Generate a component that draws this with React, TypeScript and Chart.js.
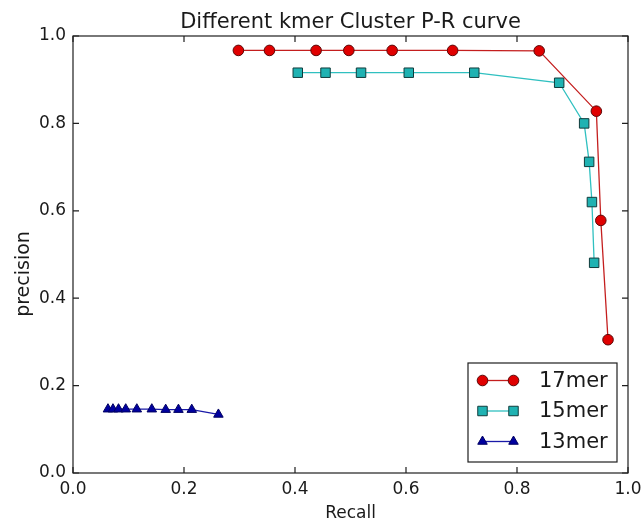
import React, { useEffect, useRef } from "react";
import { Chart, registerables } from "chart.js";

Chart.register(...registerables);

const TITLE = "Different kmer Cluster P-R curve";
const X_LABEL = "Recall";
const Y_LABEL = "precision";
const TICK_VALUES = [0, 0.2, 0.4, 0.6, 0.8, 1.0];

const SERIES_NAMES = ["17mer", "15mer", "13mer"];

const recall17 = [0.298, 0.354, 0.438, 0.497, 0.575, 0.684, 0.84, 0.943, 0.951, 0.964];
const precision17 = [0.967, 0.967, 0.967, 0.967, 0.967, 0.967, 0.966, 0.828, 0.578, 0.305];

const recall15 = [0.405, 0.455, 0.519, 0.605, 0.723, 0.876, 0.921, 0.93, 0.935, 0.939];
const precision15 = [0.916, 0.916, 0.916, 0.916, 0.916, 0.893, 0.8, 0.712, 0.62, 0.481];

const recall13 = [0.063, 0.072, 0.082, 0.095, 0.115, 0.142, 0.167, 0.19, 0.214, 0.262];
const precision13 = [0.146, 0.146, 0.146, 0.146, 0.146, 0.146, 0.145, 0.145, 0.145, 0.134];

const FONT = "'DejaVu Sans', sans-serif";

function pts(xs: number[], ys: number[]) {
  return xs.map((x, i) => ({ x, y: ys[i] }));
}

function drawMarker(ctx: CanvasRenderingContext2D, style: string, x: number, y: number, r: number) {
  ctx.beginPath();
  if (style === "circle") {
    ctx.arc(x, y, r, 0, Math.PI * 2);
  } else if (style === "rect") {
    const s = Math.SQRT1_2 * r;
    ctx.rect(x - s, y - s, 2 * s, 2 * s);
  } else if (style === "triangle") {
    let rad = 0;
    ctx.moveTo(x + Math.sin(rad) * r, y - Math.cos(rad) * r);
    rad += (2 * Math.PI) / 3;
    ctx.lineTo(x + Math.sin(rad) * r, y - Math.cos(rad) * r);
    rad += (2 * Math.PI) / 3;
    ctx.lineTo(x + Math.sin(rad) * r, y - Math.cos(rad) * r);
    ctx.closePath();
  }
  ctx.fill();
  ctx.stroke();
}

const framePlugin = {
  id: "mplFrame",
  afterDraw(chart: any) {
    const { ctx, chartArea } = chart;
    const { left, right, top, bottom } = chartArea;
    const xs = chart.scales.x;
    const ys = chart.scales.y;
    ctx.save();
    ctx.strokeStyle = "#1e1e1e";
    ctx.lineWidth = 1.2;
    ctx.strokeRect(left, top, right - left, bottom - top);
    const tl = 6;
    ctx.beginPath();
    TICK_VALUES.forEach((v) => {
      const px = xs.getPixelForValue(v);
      ctx.moveTo(px, bottom);
      ctx.lineTo(px, bottom - tl);
      ctx.moveTo(px, top);
      ctx.lineTo(px, top + tl);
      const py = ys.getPixelForValue(v);
      ctx.moveTo(left, py);
      ctx.lineTo(left + tl, py);
      ctx.moveTo(right, py);
      ctx.lineTo(right - tl, py);
    });
    ctx.stroke();

    // title
    ctx.fillStyle = "#1a1a1a";
    ctx.font = `21px ${FONT}`;
    ctx.textAlign = "center";
    ctx.textBaseline = "alphabetic";
    ctx.fillText(TITLE, (left + right) / 2, 28);

    // y axis label
    ctx.save();
    ctx.translate(24, 274);
    ctx.rotate(-Math.PI / 2);
    ctx.font = `19px ${FONT}`;
    ctx.textAlign = "center";
    ctx.textBaseline = "middle";
    ctx.fillText(Y_LABEL, 0, 0);
    ctx.restore();

    // legend
    const bw = 149;
    const bh = 99;
    const bx = right - 11 - bw;
    const by = bottom - 11 - bh;
    ctx.fillStyle = "#ffffff";
    ctx.fillRect(bx, by, bw, bh);
    ctx.strokeStyle = "#1e1e1e";
    ctx.lineWidth = 1.2;
    ctx.strokeRect(bx, by, bw, bh);
    chart.data.datasets.forEach((ds: any, i: number) => {
      const cy = by + 17.5 + i * 30.5;
      const x1 = bx + 14.5;
      const x2 = bx + 45.5;
      ctx.strokeStyle = ds.borderColor;
      ctx.lineWidth = ds.borderWidth;
      ctx.beginPath();
      ctx.moveTo(x1, cy);
      ctx.lineTo(x2, cy);
      ctx.stroke();
      ctx.fillStyle = ds.pointBackgroundColor;
      ctx.strokeStyle = ds.pointBorderColor;
      ctx.lineWidth = ds.pointBorderWidth;
      drawMarker(ctx, ds.pointStyle, x1, cy, ds.pointRadius);
      drawMarker(ctx, ds.pointStyle, x2, cy, ds.pointRadius);
      ctx.fillStyle = "#1a1a1a";
      ctx.font = `21px ${FONT}`;
      ctx.textAlign = "left";
      ctx.textBaseline = "middle";
      ctx.fillText(ds.label, bx + 71, cy + 1);
    });
    ctx.restore();
  },
};

export default function App() {
  const ref = useRef<HTMLCanvasElement | null>(null);

  useEffect(() => {
    if (!ref.current) return;
    const tickFont = { family: FONT, size: 17 };
    const chart = new Chart(ref.current, {
      type: "line",
      data: {
        datasets: [
          {
            label: SERIES_NAMES[0],
            data: pts(recall17, precision17),
            borderColor: "#c41e1e",
            borderWidth: 1.3,
            pointStyle: "circle",
            pointRadius: 5.3,
            pointBackgroundColor: "#e00000",
            pointBorderColor: "#5a0808",
            pointBorderWidth: 1,
            fill: false,
            tension: 0,
          },
          {
            label: SERIES_NAMES[1],
            data: pts(recall15, precision15),
            borderColor: "#30c0c0",
            borderWidth: 1.3,
            pointStyle: "rect",
            pointRadius: 6.7,
            pointBackgroundColor: "#1fb2b2",
            pointBorderColor: "#103c3c",
            pointBorderWidth: 1,
            fill: false,
            tension: 0,
          },
          {
            label: SERIES_NAMES[2],
            data: pts(recall13, precision13),
            borderColor: "#1a1aa8",
            borderWidth: 1.3,
            pointStyle: "triangle",
            pointRadius: 5.5,
            pointBackgroundColor: "#0000a0",
            pointBorderColor: "#000060",
            pointBorderWidth: 1,
            fill: false,
            tension: 0,
          },
        ],
      },
      options: {
        responsive: false,
        animation: false,
        devicePixelRatio: 1,
        layout: { padding: { top: 36, right: 16, left: 0, bottom: 0 } },
        plugins: {
          legend: { display: false },
          tooltip: { enabled: false },
          title: { display: false },
        },
        scales: {
          x: {
            type: "linear",
            min: 0,
            max: 1,
            afterFit: (s: any) => {
              s.height = 54;
              s.paddingLeft = 0;
              s.paddingRight = 0;
            },
            afterBuildTicks: (s: any) => {
              s.ticks = TICK_VALUES.map((v) => ({ value: v }));
            },
            ticks: {
              font: tickFont,
              color: "#1a1a1a",
              padding: 6,
              maxRotation: 0,
              callback: (v: any) => Number(v).toFixed(1),
            },
            grid: { display: false, drawTicks: false },
            border: { display: false },
            title: {
              display: true,
              text: X_LABEL,
              font: { family: FONT, size: 17 },
              color: "#1a1a1a",
              padding: { top: 0, bottom: 3 },
            },
          },
          y: {
            type: "linear",
            min: 0,
            max: 1,
            afterFit: (s: any) => {
              s.width = 73;
              s.paddingTop = 0;
              s.paddingBottom = 0;
            },
            afterBuildTicks: (s: any) => {
              s.ticks = TICK_VALUES.map((v) => ({ value: v }));
            },
            ticks: {
              font: tickFont,
              color: "#1a1a1a",
              padding: 7,
              callback: (v: any) => Number(v).toFixed(1),
            },
            grid: { display: false, drawTicks: false },
            border: { display: false },
            title: { display: false },
          },
        },
      },
      plugins: [framePlugin],
    } as any);
    return () => chart.destroy();
  }, []);

  return (
    <div style={{ position: "absolute", left: 0, top: 0, width: 644, height: 527, background: "#fff" }}>
      <canvas ref={ref} width={644} height={527} />
    </div>
  );
}
